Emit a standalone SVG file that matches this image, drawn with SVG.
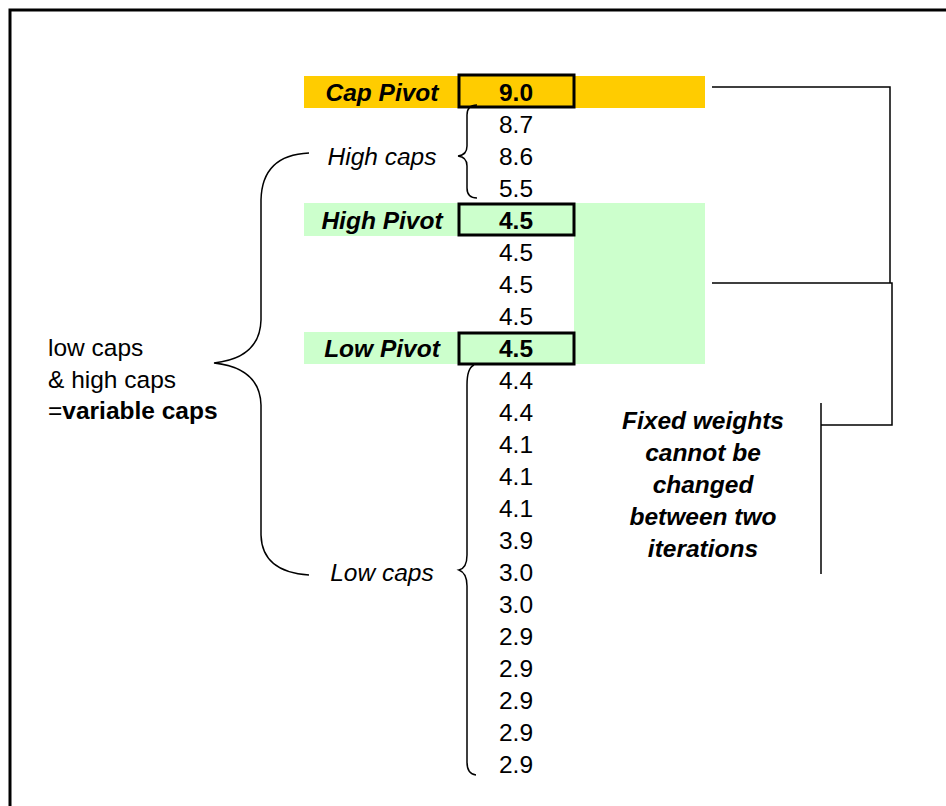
<svg xmlns="http://www.w3.org/2000/svg" width="946" height="806" viewBox="0 0 946 806">
<style>
text{font-family:"Liberation Sans",Arial,sans-serif;font-size:24.5px;fill:#000}
.num{text-anchor:middle}
.piv{text-anchor:middle;font-weight:bold;font-style:italic}
.lbl{text-anchor:middle;font-style:italic}
.b{font-weight:bold}
.ln{fill:none;stroke:#000;stroke-width:1.5}
.box{stroke:#000;stroke-width:3}
</style>
<rect width="946" height="806" fill="#fff"/>
<g id="frame">
<path d="M10,806 V10 H946" fill="none" stroke="#000" stroke-width="3"/>
</g>
<g id="backgrounds">
<rect x="304" y="76" width="401" height="32" fill="#ffcc00"/>
<rect x="304" y="203" width="401" height="33" fill="#ccffcc"/>
<rect x="574" y="203" width="131" height="161" fill="#ccffcc"/>
<rect x="304" y="332" width="401" height="32" fill="#ccffcc"/>
</g>
<g id="cap-pivot">
<rect class="box" x="459" y="75" width="115" height="32" fill="#ffcc00"/>
<text class="piv" x="382" y="101">Cap Pivot</text>
<text class="num b" x="516" y="101">9.0</text>
</g>
<g id="high-pivot">
<rect class="box" x="459" y="204" width="115" height="31" fill="#ccffcc"/>
<text class="piv" x="382" y="229">High Pivot</text>
<text class="num b" x="516" y="229">4.5</text>
</g>
<g id="low-pivot">
<rect class="box" x="459" y="333" width="115" height="31" fill="#ccffcc"/>
<text class="piv" x="382" y="357">Low Pivot</text>
<text class="num b" x="516" y="357">4.5</text>
</g>
<g id="values">
<text class="num" x="516" y="133">8.7</text>
<text class="num" x="516" y="165">8.6</text>
<text class="num" x="516" y="197">5.5</text>
<text class="num" x="516" y="261">4.5</text>
<text class="num" x="516" y="293">4.5</text>
<text class="num" x="516" y="325">4.5</text>
<text class="num" x="516" y="389">4.4</text>
<text class="num" x="516" y="421">4.4</text>
<text class="num" x="516" y="453">4.1</text>
<text class="num" x="516" y="485">4.1</text>
<text class="num" x="516" y="517">4.1</text>
<text class="num" x="516" y="549">3.9</text>
<text class="num" x="516" y="581">3.0</text>
<text class="num" x="516" y="613">3.0</text>
<text class="num" x="516" y="645">2.9</text>
<text class="num" x="516" y="677">2.9</text>
<text class="num" x="516" y="709">2.9</text>
<text class="num" x="516" y="741">2.9</text>
<text class="num" x="516" y="773">2.9</text>
</g>
<g id="high-caps">
<path class="ln" d="M477,105 Q467,105 467,115 V146 Q467,155 458,156 Q467,157 467,166 V188 Q467,198 477,198"/>
<text class="lbl" x="382" y="165">High caps</text>
</g>
<g id="low-caps">
<path class="ln" d="M474,365 Q467,368 467,385 V555 Q467,568 459,570 Q467,573 467,586 V762 Q467,774 476,775"/>
<text class="lbl" x="382" y="581">Low caps</text>
</g>
<g id="variable-caps">
<path class="ln" d="M309,153 Q262,155 261,200 V320 Q260,358 214,363 Q260,368 261,405 V535 Q262,572 309,575"/>
<text x="48" y="356">low caps</text>
<text x="48" y="388">&amp; high caps</text>
<text x="48" y="419">=<tspan class="b">variable caps</tspan></text>
</g>
<g id="fixed-weights">
<text class="piv" x="703" y="429">Fixed weights</text>
<text class="piv" x="703" y="461">cannot be</text>
<text class="piv" x="703" y="493">changed</text>
<text class="piv" x="703" y="525">between two</text>
<text class="piv" x="703" y="557">iterations</text>
</g>
<g id="connectors">
<path class="ln" d="M712,87 H890 V283"/>
<path class="ln" d="M712,283 H892 V425 H821"/>
<path class="ln" d="M821,403 V574"/>
</g>
</svg>
